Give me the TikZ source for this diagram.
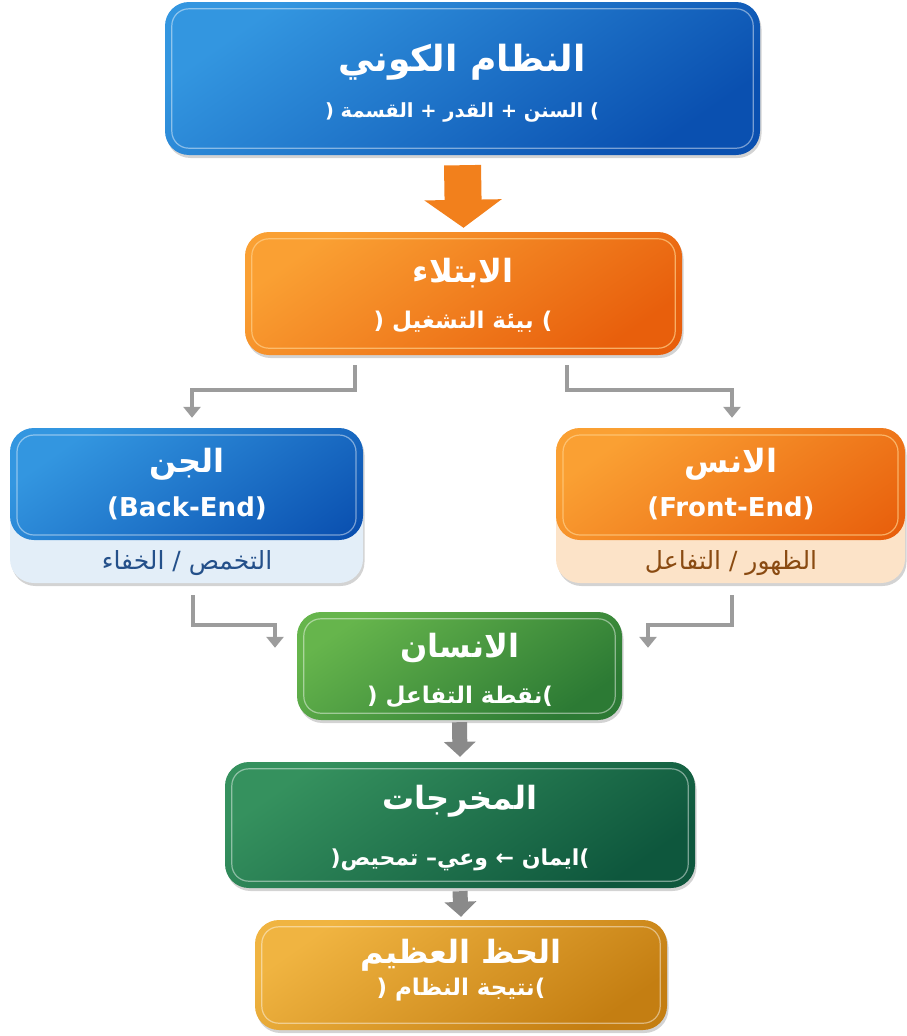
\documentclass[tikz,border=0pt]{standalone}
\usepackage{fontspec}
\TeXXeTstate=1
\newfontfamily\arabicfont[Script=Arabic]{DejaVu Sans}
\newfontfamily\latinfont{DejaVu Sans}
\usetikzlibrary{shadows,arrows.meta,calc}
\newcommand\ar[1]{\beginR#1\endR}
\definecolor{blueA}{HTML}{3396E0}
\definecolor{blueB}{HTML}{0A50B0}
\definecolor{orA}{HTML}{FAA033}
\definecolor{orB}{HTML}{E85F0C}
\definecolor{grA}{HTML}{66B54C}
\definecolor{grB}{HTML}{2C7A34}
\definecolor{dgA}{HTML}{35915E}
\definecolor{dgB}{HTML}{0E573D}
\definecolor{goA}{HTML}{F0B441}
\definecolor{goB}{HTML}{C47E12}
\definecolor{jinnlight}{HTML}{E3EEF8}
\definecolor{jinntext}{HTML}{24508A}
\definecolor{inslight}{HTML}{FCE3C8}
\definecolor{instext}{HTML}{8A4B12}
\definecolor{conncol}{HTML}{9C9C9C}
\definecolor{fatcol}{HTML}{8A8A8A}
\definecolor{bigar}{HTML}{F2801C}
\definecolor{orline}{HTML}{FFD08A}
\begin{document}
\begin{tikzpicture}[x=1pt,y=-1pt,
  box/.style={rounded corners=24pt, inner sep=0pt,
    drop shadow={opacity=.35, shadow xshift=1.5pt, shadow yshift=-3pt}},
  shadeit/.style 2 args={top color=#1, bottom color=#2, shading angle=35},
  innerline/.style={draw=white, draw opacity=.45, line width=1.2pt, rounded corners=17pt},
  orinner/.style={innerline, draw=orline, draw opacity=.7},
  ttl/.style={font=\arabicfont\bfseries\fontsize{32}{36}\selectfont, text=white, inner sep=0pt},
  bigttl/.style={font=\arabicfont\bfseries\fontsize{36}{40}\selectfont, text=white, inner sep=0pt},
  sub/.style={font=\arabicfont\bfseries\fontsize{23}{27}\selectfont, text=white, inner sep=0pt},
  low/.style={font=\arabicfont\fontsize{25}{29}\selectfont, inner sep=0pt},
  lat/.style={font=\latinfont\bfseries\fontsize{26}{30}\selectfont, text=white, inner sep=0pt},
  conn/.style={draw=conncol, line width=3.5pt, -{Triangle[length=11pt,width=17pt]}},
  fat/.style={draw=fatcol, line width=15pt, -{Triangle[length=15pt,width=31pt]}},
]
\useasboundingbox (0,0) rectangle (907,1036);

% boxes
\node[box, shadeit={blueA}{blueB}, minimum width=595pt, minimum height=153pt] (sys) at (462.5,78.5) {};
\draw[innerline] ([xshift=7pt,yshift=-7pt]sys.north west) rectangle ([xshift=-7pt,yshift=7pt]sys.south east);

\node[box, shadeit={orA}{orB}, minimum width=437pt, minimum height=123pt] (ibt) at (463.5,293.5) {};
\draw[orinner] ([xshift=7pt,yshift=-7pt]ibt.north west) rectangle ([xshift=-7pt,yshift=7pt]ibt.south east);

\node[box, fill=jinnlight, minimum width=353pt, minimum height=155pt,
  path picture={
    \shade[top color=blueA, bottom color=blueB, shading angle=35] (path picture bounding box.north west) rectangle ([yshift=43pt]path picture bounding box.south east);
    \draw[innerline] ([xshift=7pt,yshift=-7pt]path picture bounding box.north west) rectangle ([xshift=-7pt,yshift=48pt]path picture bounding box.south east);
  }] (jinn) at (186.5,505.5) {};

\node[box, fill=inslight, minimum width=349pt, minimum height=155pt,
  path picture={
    \shade[top color=orA, bottom color=orB, shading angle=35] (path picture bounding box.north west) rectangle ([yshift=43pt]path picture bounding box.south east);
    \draw[orinner] ([xshift=7pt,yshift=-7pt]path picture bounding box.north west) rectangle ([xshift=-7pt,yshift=48pt]path picture bounding box.south east);
  }] (ins) at (730.5,505.5) {};

\node[box, shadeit={grA}{grB}, minimum width=325pt, minimum height=108pt] (insan) at (459.5,666) {};
\draw[innerline] ([xshift=7pt,yshift=-7pt]insan.north west) rectangle ([xshift=-7pt,yshift=7pt]insan.south east);

\node[box, shadeit={dgA}{dgB}, minimum width=470pt, minimum height=126pt] (out) at (460,825) {};
\draw[innerline] ([xshift=7pt,yshift=-7pt]out.north west) rectangle ([xshift=-7pt,yshift=7pt]out.south east);

\node[box, shadeit={goA}{goB}, minimum width=412pt, minimum height=110pt] (gold) at (461,975) {};
\draw[innerline] ([xshift=7pt,yshift=-7pt]gold.north west) rectangle ([xshift=-7pt,yshift=7pt]gold.south east);

% texts
\node[bigttl] (t1) at (462,62) {\ar{النظام الكوني}};
\node[sub, font=\arabicfont\bfseries\fontsize{19.5}{23}\selectfont] (s1) at (462,112) {(\ \ar{السنن + القدر + القسمة}\ )};
\node[ttl] (t2) at (463,273) {\ar{الابتلاء}};
\node[sub] (s2) at (463,322) {(\ \ar{بيئة التشغيل}\ )};
\node[ttl] (t3) at (187,464) {\ar{الجن}};
\node[lat] (s3) at (187,508) {(Back-End)};
\node[low, text=jinntext] (b3) at (187,563) {\ar{التخمص / الخفاء}};
\node[ttl] (t4) at (731,464) {\ar{الانس}};
\node[lat] (s4) at (731,508) {(Front-End)};
\node[low, text=instext] (b4) at (731,563) {\ar{الظهور / التفاعل}};
\node[ttl] (t5) at (460,648) {\ar{الانسان}};
\node[sub] (s5) at (460,697) {(\ \ar{نقطة التفاعل})};
\node[ttl] (t6) at (460,801) {\ar{المخرجات}};
\node[sub, font=\arabicfont\bfseries\fontsize{22}{26}\selectfont] (s6) at (460,860) {(\ar{ايمان ← وعي– تمحيص})};
\node[ttl] (t7) at (461,955) {\ar{الحظ العظيم}};
\node[sub] (s7) at (461,990) {(\ \ar{نتيجة النظام})};

% connectors
\draw[draw=bigar, line width=37pt, -{Triangle[length=28pt,width=76pt]}] ([yshift=-10pt]sys.south) -- ([yshift=4pt]ibt.north);
\draw[conn] ([xshift=-108.5pt,yshift=-10pt]ibt.south) -- ++(0,25) -| ([xshift=5.5pt,yshift=10pt]jinn.north);
\draw[conn] ([xshift=103.5pt,yshift=-10pt]ibt.south) -- ++(0,25) -| ([xshift=1.5pt,yshift=10pt]ins.north);
\draw[conn] ([xshift=6.5pt,yshift=-12pt]jinn.south) -- ++(0,30) -| ([xshift=-184.5pt,yshift=-36pt]insan.north);
\draw[conn] ([xshift=1.5pt,yshift=-12pt]ins.south) -- ++(0,30) -| ([xshift=188.5pt,yshift=-36pt]insan.north);
\draw[fat] ([yshift=-2pt]insan.south) -- ([yshift=5pt]out.north);
\draw[fat] ([yshift=-3pt]out.south) -- ([yshift=3pt]gold.north);
\end{tikzpicture}
\end{document}
